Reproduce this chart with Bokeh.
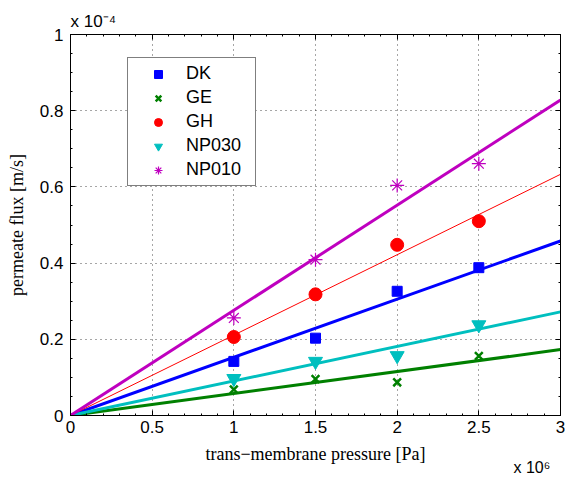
from bokeh.plotting import figure
from bokeh.models import (LinearAxis, Range1d, Legend, LegendItem, Label,
                          FixedTicker)
from bokeh.embed import file_html
from bokeh.resources import INLINE

# ---- data (pressure in units of 1e6 Pa, flux in units of 1e-4 m/s) ----
pressure = [1.0, 1.5, 2.0, 2.5]
dk = [0.142, 0.203, 0.326, 0.388]
ge = [0.068, 0.096, 0.087, 0.156]
gh = [0.206, 0.318, 0.448, 0.510]
np030 = [0.097, 0.142, 0.157, 0.238]
np010 = [0.256, 0.409, 0.604, 0.661]

# fitted lines through origin, value at end of axis (x = 3)
fit_x = [0.0, 3.0]
fit_dk = [0.0, 0.458]
fit_ge = [0.0, 0.173]
fit_gh = [0.0, 0.633]
fit_np030 = [0.0, 0.272]
fit_np010 = [0.0, 0.828]

x_ticks = [0, 0.5, 1, 1.5, 2, 2.5, 3]
y_ticks = [0, 0.2, 0.4, 0.6, 0.8, 1]
x_minor = [i * 0.1 for i in range(31)]
y_minor = [i * 0.05 for i in range(21)]

x_title = "trans\u2212membrane pressure [Pa]"
y_title = "permeate flux [m/s]"

blue = "#0000FF"
green = "#008000"
red = "#FF0000"
cyan = "#00BFBF"
magenta = "#BF00BF"

p = figure(width=565, height=477, output_backend="svg", toolbar_location=None,
           x_range=Range1d(0, 3), y_range=Range1d(0, 1),
           min_border_left=70, min_border_right=5, min_border_top=34,
           min_border_bottom=62, background_fill_color="white",
           border_fill_color="white")
p.outline_line_color = "black"
p.outline_line_width = 1

tick_font = "Liberation Sans"
label_font = "Liberation Serif"

for ax in [p.xaxis[0], p.yaxis[0]]:
    ax.major_tick_in = 5
    ax.major_tick_out = 0
    ax.minor_tick_in = 2
    ax.minor_tick_out = 0
    ax.axis_line_color = "black"
    ax.major_tick_line_color = "black"
    ax.minor_tick_line_color = "black"
    ax.major_label_text_font = tick_font
    ax.major_label_text_font_size = "17px"
    ax.major_label_text_color = "black"
    ax.axis_label_text_font = label_font
    ax.axis_label_text_font_size = "18px"
    ax.axis_label_text_font_style = "normal"
    ax.axis_label_text_color = "black"

p.xaxis[0].ticker = FixedTicker(ticks=x_ticks, minor_ticks=x_minor)
p.yaxis[0].ticker = FixedTicker(ticks=y_ticks, minor_ticks=y_minor)
p.xaxis[0].major_label_overrides = {0: "0", 1: "1", 2: "2", 3: "3"}
p.yaxis[0].major_label_overrides = {0: "0", 1: "1"}
p.xaxis[0].major_label_standoff = 5
p.yaxis[0].major_label_standoff = 7
p.yaxis[0].axis_label = y_title
p.yaxis[0].axis_label_standoff = 10

# top and right axes with inward ticks only (no labels)
for loc, ticks, minor in [("above", x_ticks, x_minor),
                          ("right", y_ticks, y_minor)]:
    ax = LinearAxis(ticker=FixedTicker(ticks=ticks, minor_ticks=minor),
                    major_tick_in=5, major_tick_out=0,
                    minor_tick_in=2, minor_tick_out=0,
                    major_label_overrides={t: "" for t in ticks},
                    major_label_text_color=None,
                    major_label_standoff=0,
                    axis_line_color="black",
                    major_tick_line_color="black",
                    minor_tick_line_color="black")
    p.add_layout(ax, loc)

p.xgrid.ticker = FixedTicker(ticks=x_ticks)
p.ygrid.ticker = FixedTicker(ticks=y_ticks)
p.grid.grid_line_color = "black"
p.grid.grid_line_alpha = 0.7
p.grid.grid_line_dash = "1 4"
p.grid.grid_line_width = 1

# markers
r_dk = p.scatter(pressure, dk, marker="square", size=10, color=blue)
r_ge = p.scatter(pressure, ge, marker="x", size=11, line_color=green,
                 line_width=2.5)
r_gh = p.scatter(pressure, gh, marker="circle", size=13, color=red)
r_np030 = p.scatter(pressure, np030, marker="inverted_triangle", size=14,
                    color=cyan)
r_np010 = p.scatter(pressure, np010, marker="asterisk", size=14,
                    line_color=magenta, line_width=1.2)

# fitted lines
p.line(fit_x, fit_dk, line_color=blue, line_width=3)
p.line(fit_x, fit_ge, line_color=green, line_width=3)
p.line(fit_x, fit_gh, line_color=red, line_width=1)
p.line(fit_x, fit_np030, line_color=cyan, line_width=3)
p.line(fit_x, fit_np010, line_color=magenta, line_width=3)

legend = Legend(items=[
    LegendItem(label="DK", renderers=[r_dk]),
    LegendItem(label="GE", renderers=[r_ge]),
    LegendItem(label="GH", renderers=[r_gh]),
    LegendItem(label="NP030", renderers=[r_np030]),
    LegendItem(label="NP010", renderers=[r_np010]),
], location=(57, 229), padding=5, spacing=3, glyph_width=50,
    glyph_height=20, label_height=20, label_width=64, label_standoff=3,
    label_text_font=tick_font, label_text_font_size="18px",
    label_text_color="black", border_line_color="black",
    border_line_width=1, background_fill_color="white",
    background_fill_alpha=1, margin=0)
p.add_layout(legend, "center")

# texts outside the frame, placed in side panels so they are not clipped
p.add_layout(Label(x=0, y=1, x_offset=0, y_offset=13,
                   text="x 10\u207b\u2074",
                   text_font=tick_font, text_font_size="17px",
                   text_baseline="middle", text_color="black"), "above")
p.add_layout(Label(x=1.5, y=0, x_offset=0, y_offset=-38, text=x_title,
                   text_font=label_font, text_font_size="18px",
                   text_align="center", text_baseline="middle",
                   text_color="black"), "below")
p.add_layout(Label(x=3, y=0, x_offset=-47, y_offset=-52,
                   text="x 10\u2076",
                   text_font=tick_font, text_font_size="16px",
                   text_baseline="middle", text_color="black"), "below")

open("out.html", "w").write(file_html(p, INLINE))
